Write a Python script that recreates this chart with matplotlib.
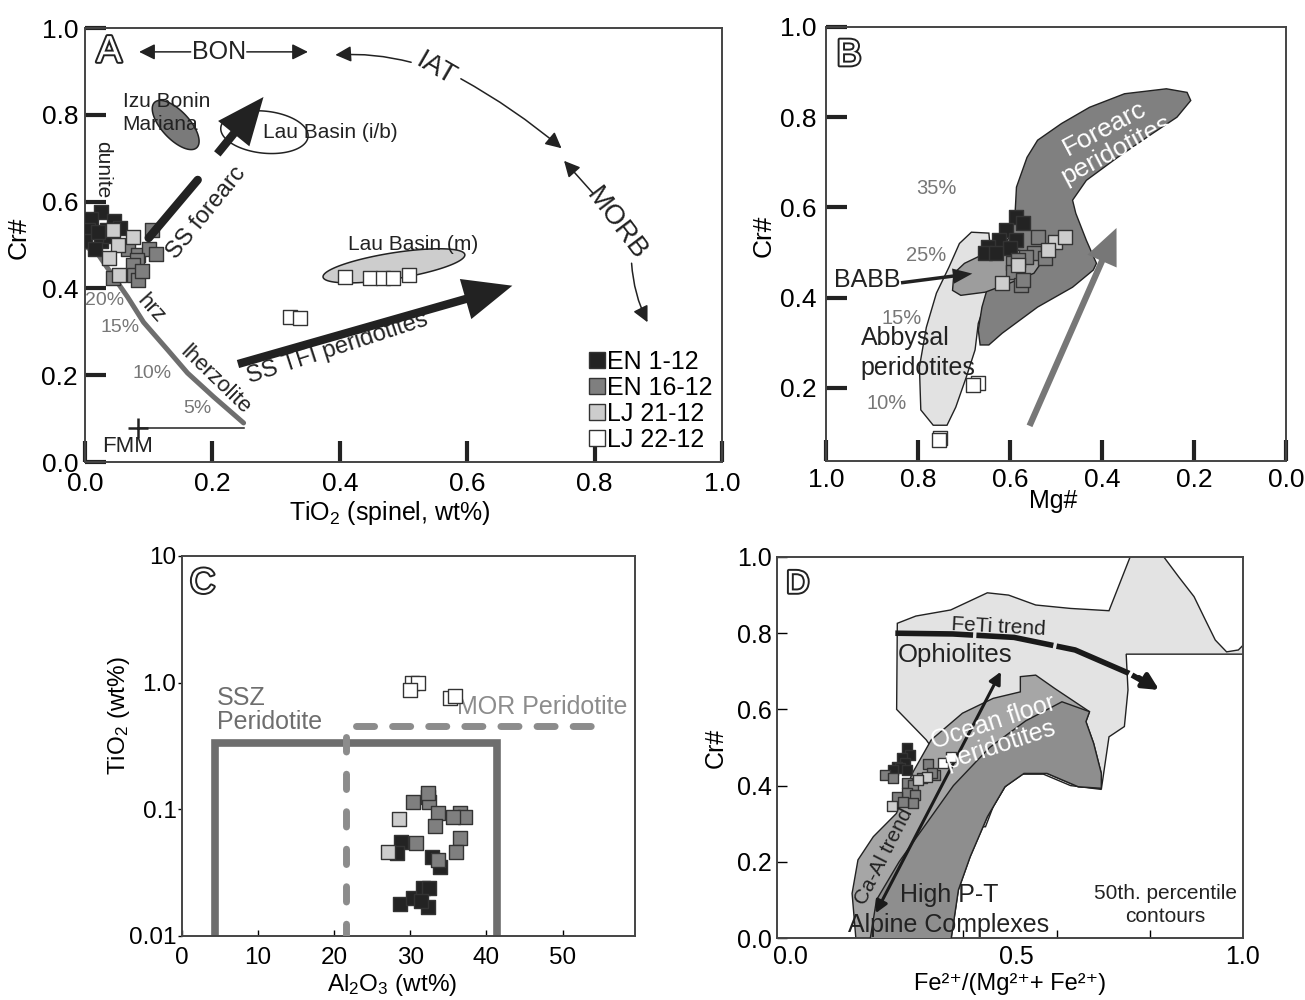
import numpy as np
import matplotlib
matplotlib.use('Agg')
import matplotlib.pyplot as plt
from matplotlib.patches import Polygon, FancyArrowPatch, ArrowStyle
from matplotlib.lines import Line2D
from matplotlib import patheffects as pe

plt.rcParams['font.family'] = ['Liberation Sans', 'DejaVu Sans']
plt.rcParams['mathtext.default'] = 'regular'

# ---------------- data ----------------
series_names = ['EN 1-12', 'EN 16-12', 'LJ 21-12', 'LJ 22-12']
series_colors = ['#232323', '#7f7f7f', '#cdcdcd', '#ffffff']

# Panel A : TiO2 (spinel, wt%) vs Cr#
a_tio2 = [
    [0.025, 0.01, 0.045, 0.005, 0.035, 0.025, 0.0, 0.015, 0.04, 0.02, 0.055],
    [0.106, 0.067, 0.084, 0.10, 0.111, 0.082, 0.075, 0.077, 0.084, 0.044, 0.09],
    [0.044, 0.075, 0.052, 0.038, 0.053],
    [0.408, 0.448, 0.468, 0.483, 0.509, 0.322, 0.338],
]
a_cr = [
    [0.575, 0.56, 0.555, 0.535, 0.535, 0.51, 0.51, 0.49, 0.52, 0.53, 0.54],
    [0.535, 0.49, 0.477, 0.49, 0.48, 0.465, 0.455, 0.43, 0.42, 0.425, 0.44],
    [0.535, 0.518, 0.50, 0.47, 0.431],
    [0.426, 0.424, 0.424, 0.424, 0.431, 0.334, 0.332],
]

# Panel B : Mg# vs Cr#
b_mg = [
    [0.586, 0.571, 0.608, 0.623, 0.647, 0.586, 0.601, 0.654, 0.63],
    [0.540, 0.547, 0.525, 0.566, 0.593, 0.593, 0.577, 0.571, 0.582],
    [0.503, 0.481, 0.517, 0.582, 0.617],
    [0.669, 0.68, 0.752, 0.755],
]
b_cr = [
    [0.578, 0.565, 0.549, 0.527, 0.512, 0.527, 0.509, 0.498, 0.498],
    [0.534, 0.498, 0.487, 0.49, 0.476, 0.456, 0.427, 0.439, 0.483],
    [0.523, 0.534, 0.505, 0.472, 0.432],
    [0.21, 0.206, 0.089, 0.085],
]

# Panel C : Al2O3 (wt%) vs TiO2 (wt%)
c_al = [
    [28.8, 28.2, 32.9, 33.9, 28.6, 30.4, 31.6, 32.3, 32.5, 31.4],
    [30.3, 32.3, 32.5, 33.6, 33.2, 36.5, 37.2, 35.6, 36.5, 36.0, 30.7, 33.6, 32.3],
    [28.5, 27.1],
    [30.2, 31.0, 29.9, 35.2, 35.8],
]
c_ti = [
    [0.055, 0.045, 0.042, 0.035, 0.018, 0.020, 0.024, 0.017, 0.024, 0.019],
    [0.114, 0.125, 0.114, 0.0935, 0.074, 0.0935, 0.087, 0.087, 0.059, 0.046, 0.054, 0.040, 0.134],
    [0.084, 0.046],
    [1.0, 1.0, 0.88, 0.75, 0.78],
]

# Panel D : Fe2+/(Mg2+ + Fe2+) vs Cr#
d_fe = [
    [0.257, 0.264, 0.246, 0.253, 0.235, 0.242, 0.227, 0.257],
    [0.209, 0.227, 0.304, 0.257, 0.271, 0.29, 0.319, 0.257, 0.275, 0.235, 0.271, 0.249, 0.312],
    [0.301, 0.224, 0.282],
    [0.337, 0.355],
]
d_cr = [
    [0.499, 0.48, 0.472, 0.459, 0.449, 0.446, 0.441, 0.441],
    [0.428, 0.42, 0.457, 0.407, 0.402, 0.42, 0.428, 0.38, 0.375, 0.37, 0.354, 0.357, 0.433],
    [0.423, 0.346, 0.415],
    [0.46, 0.475],
]

# reference fields / trend curves
melt_curve_x = [0.249, 0.202, 0.161, 0.13, 0.092, 0.067, 0.041, 0.02, 0.005]
melt_curve_y = [0.09, 0.15, 0.205, 0.258, 0.322, 0.38, 0.435, 0.48, 0.493]

forearc_field = [(0.665, 0.295), (0.669, 0.328), (0.661, 0.379), (0.646, 0.432), (0.623, 0.498),
                 (0.597, 0.543), (0.589, 0.587), (0.586, 0.645), (0.563, 0.711), (0.54, 0.749),
                 (0.488, 0.786), (0.427, 0.822), (0.351, 0.852), (0.26, 0.863), (0.215, 0.855),
                 (0.207, 0.837), (0.237, 0.8), (0.29, 0.764), (0.366, 0.711), (0.434, 0.66),
                 (0.464, 0.616), (0.457, 0.587), (0.434, 0.527), (0.412, 0.476), (0.419, 0.461),
                 (0.464, 0.423), (0.54, 0.379), (0.617, 0.321), (0.646, 0.295)]
abyssal_field = [(0.646, 0.543), (0.684, 0.545), (0.71, 0.52), (0.733, 0.467), (0.76, 0.41),
                 (0.782, 0.334), (0.797, 0.246), (0.794, 0.151), (0.767, 0.117), (0.737, 0.117),
                 (0.718, 0.157), (0.695, 0.224), (0.676, 0.284), (0.669, 0.343), (0.646, 0.41),
                 (0.638, 0.467), (0.643, 0.512)]
babb_field = [(0.725, 0.416), (0.722, 0.454), (0.699, 0.476), (0.654, 0.498), (0.601, 0.509),
              (0.548, 0.498), (0.533, 0.476), (0.548, 0.454), (0.601, 0.432), (0.654, 0.412),
              (0.707, 0.405)]

ophiolite_field = [(0.2345, 0.60), (0.236, 0.826), (0.277, 0.845), (0.354, 0.861), (0.435, 0.906),
                   (0.482, 0.900), (0.542, 0.874), (0.619, 0.865), (0.704, 0.859), (0.754, 1.01),
                   (0.819, 1.01), (0.858, 0.948), (0.892, 0.896), (0.917, 0.835), (0.939, 0.782),
                   (0.964, 0.751), (0.99, 0.756), (1.01, 0.78), (1.01, 0.745), (0.742, 0.745),
                   (0.746, 0.651), (0.738, 0.555), (0.704, 0.528), (0.687, 0.39), (0.619, 0.40),
                   (0.559, 0.43), (0.508, 0.43), (0.474, 0.397), (0.448, 0.345), (0.431, 0.292),
                   (0.414, 0.292), (0.40, 0.35), (0.30, 0.52)]
ocean_field = [(0.145, -0.01), (0.136, 0.117), (0.149, 0.205), (0.183, 0.266), (0.234, 0.327),
               (0.269, 0.432), (0.311, 0.52), (0.38, 0.59), (0.448, 0.629), (0.508, 0.646),
               (0.508, 0.686), (0.542, 0.69), (0.584, 0.655), (0.661, 0.594), (0.653, 0.568),
               (0.670, 0.511), (0.687, 0.432), (0.687, 0.393), (0.636, 0.397), (0.567, 0.432),
               (0.516, 0.432), (0.474, 0.397), (0.435, 0.318), (0.397, 0.213), (0.371, 0.126),
               (0.354, -0.01)]
highpt_field = [(0.175, -0.01), (0.19, 0.10), (0.24, 0.20), (0.30, 0.30), (0.36, 0.40),
                (0.44, 0.50), (0.52, 0.57), (0.60, 0.62), (0.661, 0.594), (0.653, 0.568),
                (0.670, 0.511), (0.687, 0.432), (0.687, 0.393), (0.636, 0.397), (0.567, 0.432),
                (0.516, 0.432), (0.474, 0.397), (0.435, 0.318), (0.397, 0.213), (0.371, 0.126),
                (0.354, -0.01)]
feti_x = [0.2316, 0.3585, 0.494, 0.629, 0.7476, 0.80]
feti_y = [0.80, 0.798, 0.789, 0.756, 0.695, 0.660]

# ---------------- figure ----------------
fig = plt.figure(figsize=(13.05, 10.0), dpi=100)
axA = fig.add_axes([0.0651, 0.538, 0.4882, 0.434])
axB = fig.add_axes([0.633, 0.539, 0.3524, 0.434])
axC = fig.add_axes([0.1395, 0.064, 0.347, 0.380])
axD = fig.add_axes([0.5954, 0.062, 0.357, 0.381])

EDGE = '#333333'
INK = '#222222'


def scatter_series(ax, xs, ys, size, z=5):
    for x, y, c, n in zip(xs, ys, series_colors, series_names):
        ax.scatter(x, y, marker='s', s=size ** 2, c=c, edgecolors=EDGE, linewidths=1.0,
                   zorder=z, label=n)


def panel_letter(ax, x, y, letter, size=27):
    ax.text(x, y, letter, fontsize=size, color='white', ha='center', va='center',
            path_effects=[pe.withStroke(linewidth=2.8, foreground=INK)], zorder=10)


def ellipse(cx, cy, a, b, ang, sx, sy, n=120):
    t = np.linspace(0, 2 * np.pi, n)
    r = np.deg2rad(ang)
    dx = a * np.cos(t) * np.cos(r) - b * np.sin(t) * np.sin(r)
    dy = a * np.cos(t) * np.sin(r) + b * np.sin(t) * np.cos(r)
    return np.column_stack([cx + dx / sx, cy + dy / sy])


def fat_arrow(ax, p0, p1, hl, hw, tw, color=INK, z=6):
    ar = FancyArrowPatch(p0, p1, arrowstyle=ArrowStyle.Simple(head_length=hl, head_width=hw,
                                                             tail_width=tw),
                         mutation_scale=10, color=color, lw=0, zorder=z)
    ax.add_patch(ar)


def thin_arrow(ax, p0, p1, rad=0.0, style='-|>', ms=24, lw=1.1, color=INK):
    ax.annotate('', xy=p1, xytext=p0,
                arrowprops=dict(arrowstyle=style, mutation_scale=ms, lw=lw, color=color,
                                shrinkA=0, shrinkB=0,
                                connectionstyle='arc3,rad=%s' % rad))


for ax in (axA, axB, axC, axD):
    for s in ax.spines.values():
        s.set_color('#444444')
        s.set_linewidth(1.4)

# ---------------- Panel A ----------------
ax = axA
ax.set_xlim(0, 1.0)
ax.set_ylim(0, 1.0)
ax.set_xticks([0, 0.2, 0.4, 0.6, 0.8, 1.0])
ax.set_xticklabels(['0.0', '0.2', '0.4', '0.6', '0.8', '1.0'])
ax.set_yticks([0, 0.2, 0.4, 0.6, 0.8, 1.0])
ax.set_yticklabels(['0.0', '0.2', '0.4', '0.6', '0.8', '1.0'])
ax.tick_params(direction='in', length=15, width=3, color=INK, labelsize=19)
ax.tick_params(axis='x', pad=7)
ax.tick_params(axis='y', pad=5)
ax.set_xlabel('TiO$_2$ (spinel, wt%)', fontsize=18)
ax.xaxis.set_label_coords(0.479, -0.085)
ax.set_ylabel('Cr#', fontsize=19)
ax.yaxis.set_label_coords(-0.085, 0.516)

SXA, SYA = 639.0, 434.0
ax.add_patch(Polygon(ellipse(0.1424, 0.7765, 31, 14, -47, SXA, SYA), closed=True,
                     fc='#7a7a7a', ec=INK, lw=1.1, zorder=2))
ax.add_patch(Polygon(ellipse(0.2817, 0.760, 44, 21, -6, SXA, SYA), closed=True,
                     fc='white', ec=INK, lw=1.1, zorder=2))
ax.add_patch(Polygon(ellipse(0.485, 0.452, 72, 13, 9, SXA, SYA), closed=True,
                     fc='#cdcdcd', ec=INK, lw=1.1, zorder=2))
ax.text(0.059, 0.83, 'Izu Bonin', fontsize=15, ha='left', va='center', color=INK, zorder=3)
ax.text(0.059, 0.777, 'Mariana', fontsize=15, ha='left', va='center', color=INK, zorder=3)
ax.text(0.279, 0.76, 'Lau Basin (i/b)', fontsize=15, ha='left', va='center', color=INK, zorder=7)
ax.text(0.515, 0.502, 'Lau Basin (m)', fontsize=15, ha='center', va='center', color=INK)

ax.plot(melt_curve_x, melt_curve_y, color='#6e6e6e', lw=3.6, solid_capstyle='round',
        solid_joinstyle='round', zorder=3)
ax.plot([0.083, 0.249], [0.079, 0.079], color=INK, lw=1.1, zorder=3)
ax.plot([0.083], [0.079], marker='+', ms=14, mew=1.8, color=INK, zorder=3)
ax.text(0.067, 0.035, 'FMM', fontsize=16, ha='center', va='center', color=INK)
for t, (x, y) in zip(['20%', '15%', '10%', '5%'],
                     [(0.03, 0.373), (0.055, 0.31), (0.106, 0.205), (0.177, 0.124)]):
    ax.text(x, y, t, fontsize=14, color='#777777', ha='center', va='center')
ax.text(0.103, 0.352, 'hrz', fontsize=16, rotation=-48, ha='center', va='center', color=INK)
ax.text(0.205, 0.19, 'lherzolite', fontsize=16, rotation=-44, ha='center', va='center', color=INK)
ax.text(0.027, 0.673, 'dunite', fontsize=15, rotation=-90, ha='center', va='center', color=INK)

# SS forearc arrow
ax.plot([0.1, 0.177], [0.516, 0.65], color=INK, lw=6, solid_capstyle='round', zorder=6)
fat_arrow(ax, (0.205, 0.705), (0.283, 0.846), 3.4, 2.9, 0.6)
ax.text(0.19, 0.575, 'SS forearc', fontsize=17, rotation=51, ha='center', va='center', color=INK)
# SS TFI arrow
fat_arrow(ax, (0.236, 0.224), (0.675, 0.408), 3.5, 3.0, 0.6)
ax.text(0.397, 0.262, 'SS TFI peridotites', fontsize=17, rotation=18, ha='center', va='center',
        color=INK)

# BON / IAT / MORB
ax.text(0.21, 0.945, 'BON', fontsize=18, ha='center', va='center', color=INK)
thin_arrow(ax, (0.166, 0.945), (0.085, 0.945))
thin_arrow(ax, (0.254, 0.945), (0.35, 0.945))
ax.text(0.55, 0.905, 'IAT', fontsize=20, rotation=-30, ha='center', va='center', color=INK)
thin_arrow(ax, (0.512, 0.921), (0.393, 0.938), rad=0.08)
thin_arrow(ax, (0.59, 0.883), (0.748, 0.723), rad=-0.05)
ax.text(0.834, 0.548, 'MORB', fontsize=20, rotation=-53, ha='center', va='center', color=INK)
thin_arrow(ax, (0.797, 0.62), (0.752, 0.694), rad=0.0)
thin_arrow(ax, (0.858, 0.458), (0.883, 0.322), rad=0.1)

scatter_series(ax, a_tio2, a_cr, 9.5)
handles = [Line2D([], [], ls='', marker='s', ms=12, mfc=c, mec=EDGE, mew=1.0)
           for c in series_colors]
ax.legend(handles, series_names, loc='lower right', fontsize=18, frameon=False,
          handlelength=0.55, handletextpad=0.12, labelspacing=0.08, borderaxespad=0.2,
          borderpad=0.2)
panel_letter(ax, 0.038, 0.945, 'A')

# ---------------- Panel B ----------------
ax = axB
ax.set_xlim(1.0, 0.0)
ax.set_ylim(0.0377, 1.0)
ax.set_xticks([1.0, 0.8, 0.6, 0.4, 0.2, 0.0])
ax.set_xticklabels(['1.0', '0.8', '0.6', '0.4', '0.2', '0.0'])
ax.set_yticks([0.2, 0.4, 0.6, 0.8, 1.0])
ax.set_yticklabels(['0.2', '0.4', '0.6', '0.8', '1.0'])
ax.tick_params(direction='in', length=15, width=3, color=INK, labelsize=19)
ax.tick_params(axis='x', pad=5)
ax.tick_params(axis='y', pad=7)
ax.set_xlabel('Mg#', fontsize=18)
ax.xaxis.set_label_coords(0.493, -0.065)
ax.set_ylabel('Cr#', fontsize=19)
ax.yaxis.set_label_coords(-0.11, 0.518)

ax.add_patch(Polygon(abyssal_field, closed=True, fc='#e2e2e2', ec=INK, lw=1.0, zorder=1))
ax.add_patch(Polygon(forearc_field, closed=True, fc='#808080', ec=INK, lw=1.0, zorder=2))
ax.add_patch(Polygon(babb_field, closed=True, fc='#9d9d9d', ec=INK, lw=1.0, zorder=3))
ax.text(0.381, 0.752, 'Forearc\nperidotites', fontsize=19, color='white', rotation=28,
        ha='center', va='center', linespacing=1.0, zorder=4)
for t, (x, y) in zip(['35%', '25%', '15%', '10%'],
                     [(0.76, 0.642), (0.782, 0.494), (0.835, 0.354), (0.869, 0.166)]):
    ax.text(x, y, t, fontsize=14.5, color='#777777', ha='center', va='center', zorder=4)
ax.text(0.911, 0.439, 'BABB', fontsize=18, ha='center', va='center', color=INK, zorder=6)
fat_arrow(ax, (0.843, 0.432), (0.676, 0.454), 1.4, 1.1, 0.25)
ax.text(0.925, 0.31, 'Abbysal', fontsize=18, ha='left', va='center', color=INK, zorder=6)
ax.text(0.925, 0.244, 'peridotites', fontsize=18, ha='left', va='center', color=INK, zorder=6)
fat_arrow(ax, (0.56, 0.11), (0.366, 0.56), 2.6, 2.3, 0.45, color='#777777', z=4)
scatter_series(ax, b_mg, b_cr, 9.5)
panel_letter(ax, 0.95, 0.937, 'B')

# ---------------- Panel C ----------------
ax = axC
ax.set_yscale('log')
ax.set_xlim(0, 59.5)
ax.set_ylim(0.01, 10)
ax.set_xticks([0, 10, 20, 30, 40, 50])
ax.set_xticklabels(['0', '10', '20', '30', '40', '50'])
ax.set_yticks([0.01, 0.1, 1.0, 10])
ax.set_yticklabels(['0.01', '0.1', '1.0', '10'])
ax.minorticks_off()
ax.tick_params(axis='x', direction='in', length=4, width=1, labelsize=17.5, pad=8)
ax.tick_params(axis='y', direction='out', length=3, width=1, labelsize=17.5, pad=1)
ax.set_xlabel('Al$_2$O$_3$ (wt%)', fontsize=17.5)
ax.xaxis.set_label_coords(0.464, -0.095)
ax.set_ylabel('TiO$_2$ (wt%)', fontsize=17.5)
ax.yaxis.set_label_coords(-0.11, 0.579)

ax.plot([4.35, 4.35, 41.4, 41.4], [0.0095, 0.336, 0.336, 0.0095], color='#6e6e6e', lw=5.5,
        solid_joinstyle='miter', zorder=2)
ax.plot([21.5, 21.5], [0.0095, 0.37], color='#8c8c8c', lw=5, dashes=(2.2, 3.2),
        dash_capstyle='round', zorder=3)
ax.plot([22.9, 54.2], [0.454, 0.454], color='#8c8c8c', lw=5, dashes=(2.6, 2.6),
        dash_capstyle='round', zorder=3)
ax.text(4.6, 0.39, 'SSZ\nPeridotite', fontsize=18, color='#6e6e6e', ha='left', va='bottom',
        linespacing=1.05)
ax.text(36.1, 0.64, 'MOR Peridotite', fontsize=18, color='#8c8c8c', ha='left', va='center')
scatter_series(ax, c_al, c_ti, 10)
panel_letter(ax, 2.7, 6.1, 'C', size=25)

# ---------------- Panel D ----------------
ax = axD
ax.set_xlim(-0.03, 1.0)
ax.set_ylim(0, 1.0)
ax.set_xticks([0, 0.5, 1.0])
ax.set_xticklabels(['0.0', '0.5', '1.0'])
ax.set_xticks([0.176, 0.382, 0.588, 0.794], minor=True)
ax.set_yticks([0, 0.2, 0.4, 0.6, 0.8, 1.0])
ax.set_yticklabels(['0.0', '0.2', '0.4', '0.6', '0.8', '1.0'])
ax.tick_params(axis='x', which='major', length=0, labelsize=18, pad=5)
ax.tick_params(axis='x', which='minor', direction='in', length=6, width=1)
ax.tick_params(axis='y', direction='in', length=7, width=1, labelsize=18, pad=4)
ax.set_xlabel('Fe²⁺/(Mg²⁺+ Fe²⁺)', fontsize=17)
ax.xaxis.set_label_coords(0.5, -0.092)
ax.set_ylabel('Cr#', fontsize=18)
ax.yaxis.set_label_coords(-0.105, 0.50)

ax.add_patch(Polygon(ophiolite_field, closed=True, fc='#e3e3e3', ec=INK, lw=1.0, zorder=1))
ax.add_patch(Polygon(ocean_field, closed=True, fc='#a6a6a6', ec=INK, lw=1.0, zorder=2))
ax.add_patch(Polygon(highpt_field, closed=True, fc='#8e8e8e', ec=INK, lw=1.0, zorder=3))
ax.plot(feti_x, feti_y, color='#1a1a1a', lw=4, dashes=(14, 0.6), zorder=6)
thin_arrow(ax, (0.77, 0.684), (0.815, 0.651), style='-|>', ms=24, lw=3.5, color='#1a1a1a')
ax.text(0.46, 0.817, 'FeTi trend', fontsize=15, rotation=-3, ha='center', va='center',
        color=INK, zorder=7)
ax.text(0.364, 0.743, 'Ophiolites', fontsize=18.5, ha='center', va='center', color=INK, zorder=7)
ax.text(0.456, 0.537, 'Ocean floor\nperidotites', fontsize=18, color='white', rotation=18,
        ha='center', va='center', linespacing=1.0, zorder=7)
thin_arrow(ax, (0.188, 0.065), (0.465, 0.699), style='<|-|>', ms=18, lw=2.2, color='#1a1a1a')
ax.text(0.207, 0.213, 'Ca-Al trend', fontsize=15, rotation=63, ha='center', va='center',
        color=INK, zorder=7)
ax.text(0.35, 0.113, 'High P-T', fontsize=18, ha='center', va='center', color=INK, zorder=7)
ax.text(0.35, 0.034, 'Alpine Complexes', fontsize=18, ha='center', va='center', color=INK, zorder=7)
ax.text(0.828, 0.117, '50th. percentile', fontsize=15, ha='center', va='center', color=INK)
ax.text(0.828, 0.056, 'contours', fontsize=15, ha='center', va='center', color=INK)
scatter_series(ax, d_fe, d_cr, 7)
panel_letter(ax, 0.016, 0.927, 'D', size=23)

fig.savefig('out.png', dpi=100)
